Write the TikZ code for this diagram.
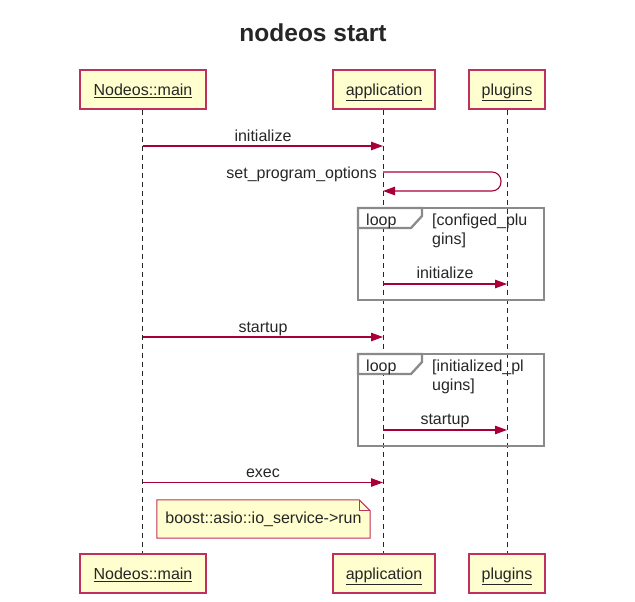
\documentclass[tikz,border=0pt]{standalone}
\usepackage{fontspec}
\setmainfont{Liberation Sans}
\usetikzlibrary{arrows.meta}
\definecolor{wsdred}{HTML}{A80036}
\definecolor{wsdborder}{HTML}{C0305F}
\definecolor{wsdfill}{HTML}{FEFECE}
\definecolor{loopgray}{HTML}{8A8A8A}
\begin{document}
\begin{tikzpicture}[x=1pt,y=-1pt,
  every node/.style={font=\fontsize{16}{19}\selectfont, text=black!85},
  part/.style={draw=wsdborder, fill=wsdfill, line width=1.1pt, minimum height=39pt, inner sep=0pt, text height=11.5pt, text depth=0pt},
  life/.style={draw=black!85, line width=0.9pt, dash pattern=on 5pt off 4pt},
  msg/.style={draw=wsdred, line width=1.1pt, -{Triangle[length=12pt,width=8.5pt]}},
  lbl/.style={anchor=base, inner sep=0pt},
  loopbox/.style={draw=loopgray, line width=2.3pt},
  notebox/.style={draw=wsdborder, fill=wsdfill, line width=1pt}
]
\useasboundingbox (0,0) rectangle (635,602);
\node[font=\bfseries\fontsize{24.5}{28}\selectfont, anchor=base] (title) at (313,42) {nodeos start};

% participants
\node[part, minimum width=126pt] (mt) at (143,89.5) {\underline{Nodeos::main}};
\node[part, minimum width=102pt] (at) at (384,89.5) {\underline{application}};
\node[part, minimum width=76pt]  (pt) at (507,89.5) {\underline{plugins}};
\node[part, minimum width=126pt] (mb) at (143,573.5) {\underline{Nodeos::main}};
\node[part, minimum width=102pt] (ab) at (384,573.5) {\underline{application}};
\node[part, minimum width=76pt]  (pb) at (507,573.5) {\underline{plugins}};

% lifelines
\draw[life] ([xshift=-1pt]mt.south) -- ([xshift=-1pt]mb.north);
\draw[life] ([xshift=-1pt]at.south) -- ([xshift=-1pt]ab.north);
\draw[life] (pt.south) -- (pb.north);

% loop frames
\foreach \dy/\nm/\la/\lb in {0/loopA/{[configed\_plu}/{gins]}, 146/loopB/{[initialized\_pl}/{ugins]}}{
  \draw[loopbox] (358,208+\dy) rectangle (544,300+\dy);
  \draw[loopbox, fill=white] (358,208+\dy) -- (422,208+\dy) -- (422,216+\dy) -- (411,228+\dy) -- (358,228+\dy) -- cycle;
  \node[lbl, anchor=base west] (\nm tag) at (366,225+\dy) {loop};
  \node[lbl, anchor=base west] (\nm c1) at (432,225+\dy) {\la};
  \node[lbl, anchor=base west] (\nm c2) at (432,244+\dy) {\lb};
}

% messages
\coordinate (m1s) at (143,146); \coordinate (m1e) at (383,146);
\draw[msg] (m1s) -- (m1e);
\node[lbl] (l1) at (263,141) {initialize};

\coordinate (m2s) at (383,172); \coordinate (m2e) at (383,191);
\draw[msg, rounded corners=9pt] (m2s) -- (501,172) -- (501,191) -- (m2e);
\node[lbl, anchor=base east] (l2) at (377,178.5) {set\_program\_options};

\coordinate (m3s) at (383,284); \coordinate (m3e) at (507,284);
\draw[msg] (m3s) -- (m3e);
\node[lbl] (l3) at (445,278.5) {initialize};

\coordinate (m4s) at (143,337); \coordinate (m4e) at (383,337);
\draw[msg] (m4s) -- (m4e);
\node[lbl] (l4) at (263,332) {startup};

\coordinate (m5s) at (383,430); \coordinate (m5e) at (507,430);
\draw[msg] (m5s) -- (m5e);
\node[lbl] (l5) at (445,424.5) {startup};

\coordinate (m6s) at (143,482.5); \coordinate (m6e) at (383,482.5);
\draw[msg] (m6s) -- (m6e);
\node[lbl] (l6) at (263,477.5) {exec};

% note
\node[minimum width=213pt, minimum height=38pt, inner sep=0pt] (note) at (263.5,519) {};
\draw[notebox] (note.north west) -- ([xshift=-11pt]note.north east) -- ([yshift=-11pt]note.north east) -- (note.south east) -- (note.south west) -- cycle;
\draw[notebox, fill=none] ([xshift=-11pt]note.north east) -- ([xshift=-11pt,yshift=-11pt]note.north east) -- ([yshift=-11pt]note.north east);
\node[inner sep=0pt] (notetext) at (note.center) {boost::asio::io\_service->run};
\end{tikzpicture}
\end{document}
